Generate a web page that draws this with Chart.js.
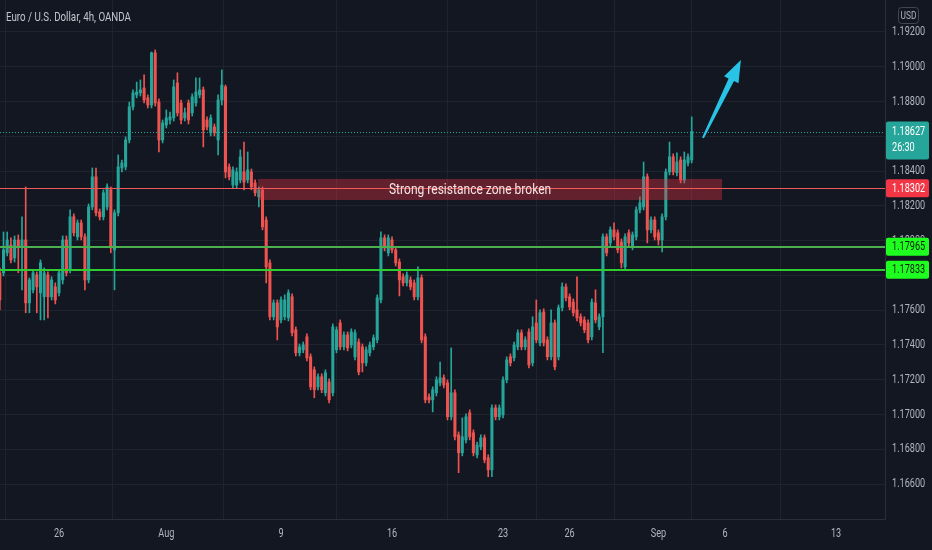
<!DOCTYPE html>
<html lang="en">
<head>
  <meta charset="UTF-8" />
  <title>Euro / U.S. Dollar, 4h, OANDA</title>
  <script src="https://cdn.jsdelivr.net/npm/chart.js"></script>
  <style>
    html, body { margin: 0; padding: 0; background: #131722; }
    #wrap { width: 932px; height: 550px; position: relative; }
  </style>
</head>
<body>
  <div id="wrap"><canvas id="fxChart"></canvas></div>

  <script>
    // 4h candles, first one is the half-hidden candle at the left edge
    const firstCandle = -1;

    const opens = [
      1.17815, 1.17815, 1.17930, 1.17975, 1.17901, 1.18004, 1.17964, 1.18004, 1.17642, 1.17717,
      1.17803, 1.17700, 1.17677, 1.17803, 1.17677, 1.17734, 1.17700, 1.17774, 1.18004, 1.17832,
      1.18137, 1.18022, 1.18102, 1.18022, 1.17774, 1.18194, 1.18367, 1.18165, 1.18137, 1.18194,
      1.18292, 1.17947, 1.18160, 1.18418, 1.18424, 1.18579, 1.18769, 1.18838, 1.18850, 1.18878,
      1.18821, 1.18780, 1.19080, 1.18797, 1.18579, 1.18665, 1.18694, 1.18706, 1.18907, 1.18792,
      1.18706, 1.18792, 1.18735, 1.18792, 1.18838, 1.18867, 1.18694, 1.18620, 1.18654, 1.18579,
      1.18809, 1.18884, 1.18424, 1.18320, 1.18320, 1.18349, 1.18395, 1.18349, 1.18395, 1.18332,
      1.18252, 1.18292, 1.18119, 1.17872, 1.17562, 1.17642, 1.17544, 1.17562, 1.17556, 1.17677,
      1.17487, 1.17355, 1.17372, 1.17447, 1.17332, 1.17257, 1.17159, 1.17217, 1.17125, 1.17187,
      1.17125, 1.17372, 1.17527, 1.17389, 1.17458, 1.17400, 1.17332, 1.17417, 1.17389, 1.17297,
      1.17355, 1.17389, 1.17429, 1.17659, 1.18016, 1.17930, 1.18004, 1.17947, 1.17877, 1.17792,
      1.17757, 1.17774, 1.17757, 1.17677, 1.17786, 1.17447, 1.17101, 1.17084, 1.17125, 1.17182,
      1.17211, 1.17182, 1.16987, 1.17125, 1.16883, 1.16780, 1.16854, 1.17010, 1.16895, 1.16768,
      1.16814, 1.16866, 1.16751, 1.16682, 1.17038, 1.16987, 1.16998, 1.17199, 1.17332, 1.17326,
      1.17389, 1.17470, 1.17389, 1.17475, 1.17297, 1.17527, 1.17412, 1.17590, 1.17429, 1.17332,
      1.17527, 1.17332, 1.17614, 1.17734, 1.17677, 1.17647, 1.17602, 1.17562, 1.17544, 1.17527,
      1.17447, 1.17642, 1.17504, 1.17562, 1.18022, 1.17987, 1.18062, 1.18045, 1.17992, 1.17849,
      1.18045, 1.17964, 1.18022, 1.18177, 1.18194, 1.18367, 1.18062, 1.18119, 1.18045, 1.18004,
      1.18137, 1.18395, 1.18482, 1.18390, 1.18464, 1.18349, 1.18447, 1.18464
    ];
    const highs = [
      1.17843, 1.18050, 1.18050, 1.18016, 1.18027, 1.18033, 1.18137, 1.18309, 1.17786, 1.17832,
      1.17820, 1.17889, 1.17843, 1.17820, 1.17792, 1.17757, 1.17832, 1.18027, 1.18027, 1.18177,
      1.18154, 1.18119, 1.18119, 1.18039, 1.18211, 1.18418, 1.18418, 1.18182, 1.18292, 1.18326,
      1.18309, 1.18177, 1.18493, 1.18464, 1.18597, 1.18797, 1.18867, 1.18912, 1.18924, 1.18953,
      1.18838, 1.19085, 1.19097, 1.18815, 1.18694, 1.18752, 1.18740, 1.18924, 1.18965, 1.18809,
      1.18763, 1.18809, 1.18844, 1.18936, 1.18936, 1.18884, 1.18712, 1.18723, 1.18671, 1.18838,
      1.18982, 1.18895, 1.18441, 1.18424, 1.18418, 1.18522, 1.18567, 1.18510, 1.18412, 1.18349,
      1.18309, 1.18309, 1.18137, 1.17889, 1.17659, 1.17659, 1.17677, 1.17688, 1.17717, 1.17694,
      1.17504, 1.17406, 1.17417, 1.17464, 1.17349, 1.17274, 1.17234, 1.17234, 1.17257, 1.17205,
      1.17521, 1.17504, 1.17544, 1.17475, 1.17475, 1.17493, 1.17487, 1.17435, 1.17406, 1.17389,
      1.17417, 1.17458, 1.17688, 1.18050, 1.18033, 1.18033, 1.18022, 1.17964, 1.17895, 1.17809,
      1.17820, 1.17792, 1.17774, 1.17849, 1.17803, 1.17464, 1.17119, 1.17159, 1.17217, 1.17302,
      1.17228, 1.17199, 1.17383, 1.17142, 1.16900, 1.16981, 1.17004, 1.17027, 1.16912, 1.16842,
      1.16883, 1.16883, 1.16768, 1.17055, 1.17055, 1.17055, 1.17217, 1.17332, 1.17349, 1.17417,
      1.17487, 1.17487, 1.17447, 1.17493, 1.17562, 1.17659, 1.17602, 1.17608, 1.17447, 1.17602,
      1.17544, 1.17630, 1.17757, 1.17751, 1.17694, 1.17665, 1.17792, 1.17579, 1.17562, 1.17544,
      1.17665, 1.17717, 1.17579, 1.18039, 1.18039, 1.18079, 1.18102, 1.18062, 1.18010, 1.18039,
      1.18062, 1.18050, 1.18194, 1.18252, 1.18452, 1.18384, 1.18137, 1.18137, 1.18062, 1.18154,
      1.18412, 1.18567, 1.18499, 1.18505, 1.18482, 1.18510, 1.18499, 1.18712
    ];
    const lows = [
      1.17602, 1.17797, 1.17912, 1.17872, 1.17877, 1.17815, 1.17717, 1.17585, 1.17585, 1.17700,
      1.17585, 1.17544, 1.17544, 1.17556, 1.17659, 1.17636, 1.17682, 1.17751, 1.17797, 1.17815,
      1.18027, 1.18004, 1.18004, 1.17717, 1.17757, 1.18177, 1.18142, 1.18119, 1.18119, 1.18177,
      1.17930, 1.17717, 1.18142, 1.18395, 1.18407, 1.18562, 1.18752, 1.18821, 1.18832, 1.18792,
      1.18763, 1.18763, 1.18774, 1.18510, 1.18562, 1.18648, 1.18671, 1.18688, 1.18717, 1.18671,
      1.18688, 1.18671, 1.18717, 1.18774, 1.18821, 1.18539, 1.18637, 1.18602, 1.18602, 1.18493,
      1.18780, 1.18361, 1.18349, 1.18303, 1.18303, 1.18332, 1.18292, 1.18332, 1.18292, 1.18257,
      1.18194, 1.18062, 1.17757, 1.17544, 1.17544, 1.17429, 1.17527, 1.17544, 1.17538, 1.17452,
      1.17337, 1.17337, 1.17355, 1.17308, 1.17142, 1.17096, 1.17142, 1.17125, 1.17107, 1.17067,
      1.17107, 1.17355, 1.17372, 1.17372, 1.17366, 1.17383, 1.17314, 1.17228, 1.17245, 1.17279,
      1.17337, 1.17372, 1.17412, 1.17642, 1.17941, 1.17912, 1.17930, 1.17854, 1.17682, 1.17739,
      1.17739, 1.17717, 1.17659, 1.17659, 1.17412, 1.17067, 1.17067, 1.17015, 1.17107, 1.17164,
      1.17153, 1.16969, 1.16969, 1.16854, 1.16665, 1.16762, 1.16837, 1.16854, 1.16762, 1.16751,
      1.16797, 1.16722, 1.16642, 1.16642, 1.16969, 1.16969, 1.16981, 1.17182, 1.17279, 1.17308,
      1.17372, 1.17372, 1.17372, 1.17268, 1.17279, 1.17412, 1.17394, 1.17394, 1.17314, 1.17314,
      1.17257, 1.17314, 1.17596, 1.17653, 1.17602, 1.17567, 1.17538, 1.17509, 1.17470, 1.17412,
      1.17429, 1.17527, 1.17487, 1.17355, 1.17912, 1.17969, 1.18004, 1.17930, 1.17843, 1.17832,
      1.17969, 1.17947, 1.18004, 1.18160, 1.18177, 1.17987, 1.18045, 1.18004, 1.17975, 1.17935,
      1.18119, 1.18378, 1.18378, 1.18372, 1.18332, 1.18332, 1.18430, 1.18447
    ];
    const closes = [
      1.17659, 1.17947, 1.18004, 1.17889, 1.18004, 1.17964, 1.18004, 1.17642, 1.17774, 1.17815,
      1.17734, 1.17872, 1.17815, 1.17677, 1.17774, 1.17659, 1.17815, 1.18004, 1.17815, 1.18137,
      1.18045, 1.18102, 1.18022, 1.17774, 1.18194, 1.18367, 1.18160, 1.18137, 1.18275, 1.18309,
      1.17958, 1.18160, 1.18424, 1.18447, 1.18579, 1.18769, 1.18850, 1.18855, 1.18867, 1.18809,
      1.18780, 1.19080, 1.18792, 1.18579, 1.18677, 1.18706, 1.18712, 1.18884, 1.18735, 1.18694,
      1.18735, 1.18694, 1.18827, 1.18855, 1.18867, 1.18637, 1.18654, 1.18706, 1.18620, 1.18809,
      1.18895, 1.18395, 1.18367, 1.18407, 1.18395, 1.18482, 1.18337, 1.18407, 1.18309, 1.18275,
      1.18292, 1.18079, 1.17849, 1.17562, 1.17642, 1.17504, 1.17659, 1.17659, 1.17700, 1.17470,
      1.17355, 1.17389, 1.17400, 1.17326, 1.17159, 1.17142, 1.17217, 1.17142, 1.17240, 1.17084,
      1.17504, 1.17487, 1.17389, 1.17458, 1.17383, 1.17475, 1.17470, 1.17245, 1.17297, 1.17372,
      1.17400, 1.17441, 1.17671, 1.18016, 1.17958, 1.18016, 1.17947, 1.17872, 1.17774, 1.17757,
      1.17803, 1.17734, 1.17677, 1.17786, 1.17429, 1.17084, 1.17084, 1.17142, 1.17199, 1.17211,
      1.17170, 1.16987, 1.17125, 1.16872, 1.16780, 1.16872, 1.16987, 1.16872, 1.16780, 1.16825,
      1.16866, 1.16739, 1.16682, 1.17038, 1.16987, 1.17038, 1.17199, 1.17314, 1.17297, 1.17400,
      1.17470, 1.17389, 1.17429, 1.17285, 1.17504, 1.17429, 1.17585, 1.17412, 1.17332, 1.17527,
      1.17274, 1.17614, 1.17734, 1.17671, 1.17619, 1.17585, 1.17556, 1.17527, 1.17487, 1.17429,
      1.17647, 1.17544, 1.17562, 1.18022, 1.17930, 1.18062, 1.18022, 1.17947, 1.17872, 1.18022,
      1.17987, 1.18033, 1.18177, 1.18217, 1.18367, 1.18062, 1.18119, 1.18022, 1.18004, 1.18137,
      1.18395, 1.18482, 1.18395, 1.18452, 1.18349, 1.18464, 1.18482, 1.18627
    ];

    // time axis (candle number of the first bar of each labelled day)
    const dateTicks = [15, 44, 75, 105, 135, 153, 177, 195, 225];
    const dateLabels = ["26", "Aug", "9", "16", "23", "26", "Sep", "6", "13"];
    const priceTicks = [1.166, 1.168, 1.170, 1.172, 1.174, 1.176, 1.178, 1.180,
                        1.182, 1.184, 1.186, 1.188, 1.190, 1.192];

    const resistanceLevel = 1.18302;
    const supportLevels = [1.17965, 1.17833];
    const lastPrice = 1.18627;
    const countdown = "26:30";
    const zoneText = "Strong resistance zone broken";
    const zoneFrom = 68.8, zoneTo = 194.2, zoneTop = 1.18355, zoneBottom = 1.18234;
    const zoneTextAt = 126.1;
    const arrowFrom = [189.05, 1.18591], arrowTo = [199.3, 1.19039];

    const UP = "#26a69a", DOWN = "#ef5350";
    const FONT = 'Roboto, "Liberation Sans", sans-serif';
    const colorFor = k => closes[k] >= opens[k] ? UP : DOWN;

    const bodies = opens.map((o, k) => ({ x: firstCandle + k, y: [o, closes[k]] }));
    const wicks = lows.map((l, k) => ({ x: firstCandle + k, y: [l, highs[k]] }));

    // the TradingView font is narrow, so text is squeezed sideways
    function label(ctx, text, x, y, size, color, align, sx) {
      ctx.save();
      ctx.font = size + "px " + FONT;
      ctx.fillStyle = color;
      ctx.textAlign = align;
      ctx.textBaseline = "middle";
      ctx.translate(x, y);
      ctx.scale(sx, 1);
      ctx.fillText(text, 0, 0);
      ctx.restore();
    }

    function hline(ctx, area, py, color, width, dash) {
      ctx.beginPath();
      ctx.strokeStyle = color;
      ctx.lineWidth = width;
      ctx.setLineDash(dash || []);
      const yy = width % 2 ? Math.round(py) + 0.5 : Math.round(py);
      ctx.moveTo(area.left, yy);
      ctx.lineTo(area.right, yy);
      ctx.stroke();
      ctx.setLineDash([]);
    }

    function tag(ctx, left, py, bg, fg, text, second) {
      const h = second ? 38 : 18;
      const top = second ? py - 10 : py - 9;
      ctx.fillStyle = bg;
      ctx.beginPath();
      ctx.roundRect(left + 1, top, 43, h, 2);
      ctx.fill();
      label(ctx, text, left + 7, py + 0.5, 12, fg, "left", 0.76);
      if (second) label(ctx, second, left + 7, py + 16, 12, fg, "left", 0.76);
    }

    const overlay = {
      id: "overlay",
      afterDatasetsDraw(chart) {
        const { ctx, chartArea: a, scales: { x, y } } = chart;
        ctx.save();
        ctx.beginPath();
        ctx.rect(a.left, a.top, a.width, a.height);
        ctx.clip();

        // resistance zone box
        const zx1 = x.getPixelForValue(zoneFrom), zx2 = x.getPixelForValue(zoneTo);
        const zy1 = y.getPixelForValue(zoneTop), zy2 = y.getPixelForValue(zoneBottom);
        ctx.fillStyle = "rgba(242, 54, 69, 0.36)";
        ctx.fillRect(zx1, zy1, zx2 - zx1, zy2 - zy1);

        hline(ctx, a, y.getPixelForValue(lastPrice), UP, 1, [1, 2]);
        hline(ctx, a, y.getPixelForValue(resistanceLevel), "#f05a5a", 1);
        hline(ctx, a, y.getPixelForValue(supportLevels[0]), "#4caf50", 2);
        hline(ctx, a, y.getPixelForValue(supportLevels[1]), "#2ecc2e", 2);

        label(ctx, zoneText, x.getPixelForValue(zoneTextAt), (zy1 + zy2) / 2 + 1,
              14, "#f7e4e4", "center", 0.86);

        // arrow
        const bx = x.getPixelForValue(arrowFrom[0]), by = y.getPixelForValue(arrowFrom[1]);
        const tx = x.getPixelForValue(arrowTo[0]), ty = y.getPixelForValue(arrowTo[1]);
        const len = Math.hypot(tx - bx, ty - by);
        const ux = (tx - bx) / len, uy = (ty - by) / len;
        const nx = -uy, ny = ux;
        const hx = tx - ux * 22, hy = ty - uy * 22;
        ctx.fillStyle = "#29c3e5";
        ctx.beginPath();
        ctx.moveTo(bx + nx * 1, by + ny * 1);
        ctx.lineTo(hx + nx * 3, hy + ny * 3);
        ctx.lineTo(hx + nx * 8, hy + ny * 8);
        ctx.lineTo(tx, ty);
        ctx.lineTo(hx - nx * 8, hy - ny * 8);
        ctx.lineTo(hx - nx * 3, hy - ny * 3);
        ctx.lineTo(bx - nx * 1, by - ny * 1);
        ctx.closePath();
        ctx.fill();
        ctx.restore();
      },
      afterDraw(chart) {
        const { ctx, chartArea: a, scales: { x, y } } = chart;
        ctx.save();
        label(ctx, "Euro / U.S. Dollar, 4h, OANDA", 6, 18, 13, "#c3c6ce", "left", 0.75);

        // axis labels from the scales' own ticks
        y.ticks.forEach(t =>
          label(ctx, t.value.toFixed(5), a.right + 7, y.getPixelForValue(t.value), 12, "#b2b5be", "left", 0.76));
        x.ticks.forEach((t, i) =>
          label(ctx, dateLabels[i], x.getPixelForValue(t.value), 534, 12, "#b2b5be", "center", 0.76));

        // price tags on the axis
        const left = a.right;
        tag(ctx, left, y.getPixelForValue(lastPrice), UP, "#ffffff", lastPrice.toFixed(5), countdown);
        tag(ctx, left, y.getPixelForValue(resistanceLevel), "#f23645", "#ffffff", resistanceLevel.toFixed(5));
        supportLevels.forEach(v =>
          tag(ctx, left, y.getPixelForValue(v), "#1fff1f", "#102010", v.toFixed(5)));

        // currency box
        ctx.strokeStyle = "#434651";
        ctx.lineWidth = 1;
        ctx.beginPath();
        ctx.roundRect(898.5, 7.5, 20, 16, 3);
        ctx.stroke();
        label(ctx, "USD", 908.5, 16, 11, "#b2b5be", "center", 0.76);
        ctx.restore();
      }
    };

    new Chart(document.getElementById("fxChart"), {
      type: "bar",
      data: {
        datasets: [
          {
            label: "body",
            data: bodies,
            backgroundColor: ctx => colorFor(ctx.dataIndex),
            barThickness: 2.4,
            minBarLength: 1,
            grouped: false
          },
          {
            label: "wick",
            data: wicks,
            backgroundColor: ctx => colorFor(ctx.dataIndex),
            barThickness: 1,
            grouped: false
          }
        ]
      },
      options: {
        responsive: true,
        maintainAspectRatio: false,
        animation: false,
        layout: { padding: 0 },
        plugins: {
          legend: { display: false },
          tooltip: { enabled: false }
        },
        scales: {
          x: {
            type: "linear",
            min: -0.946,
            max: 238.24,
            offset: false,
            afterBuildTicks: s => { s.ticks = dateTicks.map(v => ({ value: v })); },
            afterFit: s => {
              s.height = 31;
              s.paddingLeft = 0; s.paddingRight = 0;
            },
            ticks: { display: false },
            grid: { color: "#1f232e", drawTicks: false },
            border: { color: "#2a2e39" }
          },
          y: {
            position: "right",
            min: 1.16399,
            max: 1.19384,
            afterBuildTicks: s => { s.ticks = priceTicks.map(v => ({ value: v })); },
            afterFit: s => {
              s.width = 47;
              s.paddingTop = 0; s.paddingBottom = 0;
            },
            ticks: { display: false },
            grid: { color: "#1f232e", drawTicks: false },
            border: { color: "#2a2e39" }
          }
        }
      },
      plugins: [overlay]
    });
  </script>
</body>
</html>
